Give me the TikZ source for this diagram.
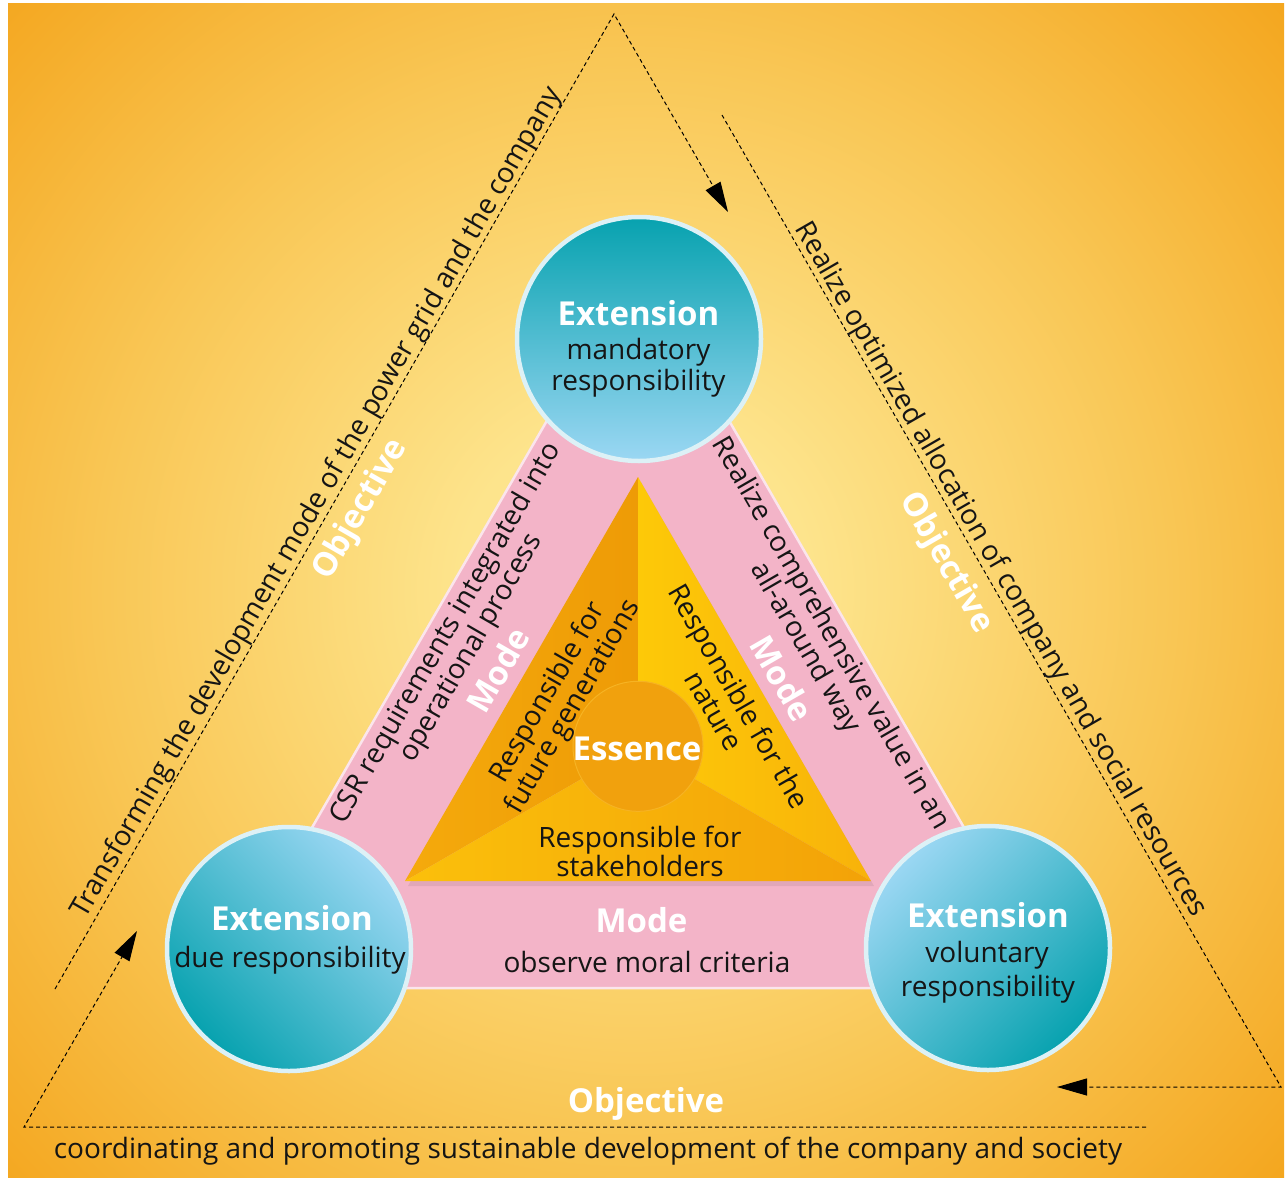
\documentclass[tikz,border=0pt]{standalone}
\usepackage{fontspec}
\setmainfont{Open Sans}
\usetikzlibrary{arrows.meta}
\definecolor{bgout}{HTML}{F4A61E}
\definecolor{bgmid}{HTML}{F9C756}
\definecolor{bgin}{HTML}{FDE48C}
\definecolor{tealc}{HTML}{07A2AF}
\definecolor{skyc}{HTML}{9BD7F3}
\definecolor{rimc}{HTML}{DDF1F6}
\definecolor{pinkc}{HTML}{F3B4C8}
\definecolor{rimpink}{HTML}{FBE5EC}
\definecolor{lsA}{HTML}{F5AA0C}
\definecolor{lsB}{HTML}{EE9B06}
\definecolor{rsA}{HTML}{FDC908}
\definecolor{rsB}{HTML}{F8B20A}
\definecolor{bsA}{HTML}{FBC00B}
\definecolor{bsB}{HTML}{F3A208}
\definecolor{essc}{HTML}{F1A10D}
\definecolor{essrim}{HTML}{F6B323}
\definecolor{txtc}{HTML}{151515}
\pgfdeclareradialshading{bgglow}{\pgfpoint{0bp}{0bp}}{color(0bp)=(bgin); color(5bp)=(bgin); color(15bp)=(bgmid); color(25bp)=(bgout); color(50bp)=(bgout)}
\begin{document}
\begin{tikzpicture}[x=1pt,y=-1pt,
  txt/.style={font=\fontsize{28}{29}\selectfont, text=txtc, align=center, inner sep=0pt},
  hdr/.style={font=\fontsize{33}{35}\selectfont\bfseries, text=white, inner sep=0pt},
  dline/.style={line width=1pt, dash pattern=on 4pt off 3pt, draw=black},
  tip/.style={-{Triangle[length=30pt,width=17pt]}},
  extc/.style={circle, minimum size=244pt, draw=rimc, line width=4.5pt, inner sep=0pt},
]
\useasboundingbox (0,0) rectangle (1285,1180);
\fill[white] (0,0) rectangle (1285,1180);
\begin{scope}
  \clip (8,4) rectangle (1284,1177);
  \fill[bgout] (8,4) rectangle (1284,1177);
  \shade[shading=bgglow] (635,590) circle (880pt);
\end{scope}

% dashed objective paths
\coordinate (apex) at (614,14);
\coordinate (lA) at (55,989);
\coordinate (rTip) at (728,212);
\coordinate (rS) at (722,115);
\coordinate (rC) at (1281,1087);
\coordinate (bTip) at (1057,1087);
\coordinate (bS) at (1146,1127);
\coordinate (bC) at (24,1127);
\coordinate (lTip) at (137,931);
\draw[dline,tip] (lA) -- (apex) -- (rTip);
\draw[dline,tip] (rS) -- (rC) -- (bTip);
\draw[dline,tip] (bS) -- (bC) -- (lTip);

\node[txt, rotate=60, anchor=south] (tLeft) at (329.6,510) {Transforming the development mode of the power grid and the company};
\node[txt, rotate=-60, anchor=south] (tRight) at (987.7,577) {Realize optimized allocation of company and social resources};
\node[txt, anchor=base] (tBottom) at (588,1158) {coordinating and promoting sustainable development of the company and society};

\node[hdr, rotate=60] (objL) at (361,510) {Objective};
\node[hdr, rotate=-60] (objR) at (946,563) {Objective};
\node[hdr, anchor=base] (objB) at (646,1112) {Objective};

% pink mode band
\coordinate (pT) at (638,262.9);
\coordinate (pL) at (219.4,988);
\coordinate (pR) at (1056.6,988);
\filldraw[fill=pinkc, draw=rimpink, line width=2.5pt, line join=round] (pT) -- (pL) -- (pR) -- cycle;

% inner essence triangle
\coordinate (iT) at (638,477);
\coordinate (iL) at (405,881);
\coordinate (iR) at (871,881);
\coordinate (iC) at (638,746.3);
\fill[black, opacity=0.07] ([shift={(3,5)}]iT) -- ([shift={(3,5)}]iL) -- ([shift={(3,5)}]iR) -- cycle;
\shade[left color=lsA, right color=lsB] (iT) -- (iC) -- (iL) -- cycle;
\shade[left color=rsA, right color=rsB] (iT) -- (iC) -- (iR) -- cycle;
\shade[left color=bsA, right color=bsB] (iL) -- (iC) -- (iR) -- cycle;

\node[circle, minimum size=130pt, inner sep=0pt, fill=essc, draw=essrim, line width=1pt] (ess) at (iC) {};
\node[hdr] (essT) at (637,749) {Essence};

% mode texts
\node[txt, rotate=60] (mL) at (459,641) {CSR requirements integrated into\\operational process};
\node[hdr, rotate=60] (modeL) at (498,670) {Mode};
\node[txt, rotate=-60] (mR) at (817.5,641) {Realize comprehensive value in an\\all-around way};
\node[hdr, rotate=-60] (modeR) at (782,678) {Mode};
\node[hdr, anchor=base] (modeB) at (641.5,932) {Mode};
\node[txt, anchor=base] (mB) at (647,972) {observe moral criteria};

% essence texts
\node[txt, rotate=60] (eL) at (561,700) {Responsible for\\future generations};
\node[txt, rotate=-60] (eR) at (727,703) {Responsible for the\\nature};
\node[txt] (eB) at (640,851) {Responsible for\\stakeholders};

% extension circles
\node[extc, top color=tealc, bottom color=skyc, shading angle=0] (extT) at (639,339) {};
\node[extc, top color=tealc, bottom color=skyc, shading angle=135] (extL) at (289,949) {};
\node[extc, top color=tealc, bottom color=skyc, shading angle=225] (extR) at (988,948) {};

\node[hdr, anchor=base] (xT1) at (638.5,325) {Extension};
\node[txt, anchor=base] (xT2) at (638.5,359) {mandatory};
\node[txt, anchor=base] (xT3) at (638.5,390) {responsibility};
\node[hdr, anchor=base] (xL1) at (292,930) {Extension};
\node[txt, anchor=base] (xL2) at (290,967) {due responsibility};
\node[hdr, anchor=base] (xR1) at (988,927) {Extension};
\node[txt, anchor=base] (xR2) at (987,962) {voluntary};
\node[txt, anchor=base] (xR3) at (988,996) {responsibility};
\end{tikzpicture}
\end{document}
